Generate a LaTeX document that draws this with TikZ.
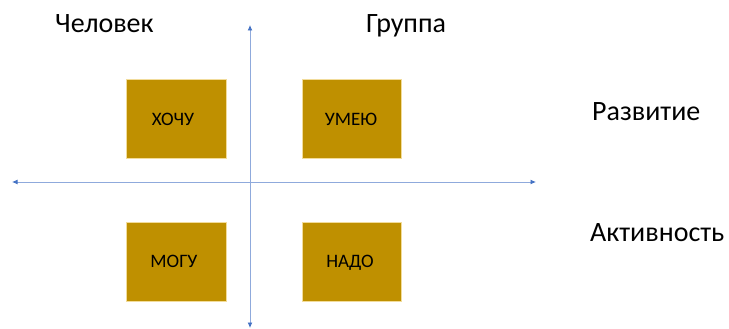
\documentclass[tikz,border=0pt]{standalone}
\usepackage{fontspec}
\setmainfont{Carlito}
\usetikzlibrary{arrows.meta}
\definecolor{boxgold}{HTML}{BF9000}
\definecolor{boxedge}{HTML}{F2DC9B}
\definecolor{axisline}{HTML}{8FAADC}
\definecolor{axistip}{HTML}{4472C4}
\tikzset{
  quad/.style={fill=boxgold, draw=boxedge, line width=0.6pt},
  quadtext/.style={anchor=base, font=\fontsize{19}{22}\selectfont, text=black, inner sep=0pt},
  headtext/.style={anchor=base west, font=\fontsize{28}{32}\selectfont, text=black, inner sep=0pt},
  axis/.style={draw=axisline, line width=0.9pt,
    {Latex[length=5.5pt,width=5pt,color=axistip]}-{Latex[length=5.5pt,width=5pt,color=axistip]}}
}
\begin{document}
\begin{tikzpicture}[x=1pt,y=-1pt]
\useasboundingbox (0,0) rectangle (729,329);
% boxes
\path[quad] (126,79) rectangle (226,158);
\path[quad] (302,79) rectangle (401,158);
\path[quad] (126,222) rectangle (226,301);
\path[quad] (302,222) rectangle (401,301);
\node[quadtext] (hochu) at (173,125) {ХОЧУ};
\node[quadtext] (umeyu) at (351,125) {УМЕЮ};
\node[quadtext] (mogu) at (174,267) {МОГУ};
\node[quadtext] (nado) at (350,267) {НАДО};
% axes
\coordinate (left) at (12,182);
\coordinate (right) at (536,182);
\coordinate (top) at (250,25);
\coordinate (bottom) at (250,328);
\draw[axis] (left) -- (right);
\draw[axis] (bottom) -- (top);
% labels
\node[headtext] (chel) at (55,33) {Человек};
\node[headtext] (grup) at (366,33) {Группа};
\node[headtext] (razv) at (592,121) {Развитие};
\node[headtext] (akt) at (590,241) {Активность};
\end{tikzpicture}
\end{document}
